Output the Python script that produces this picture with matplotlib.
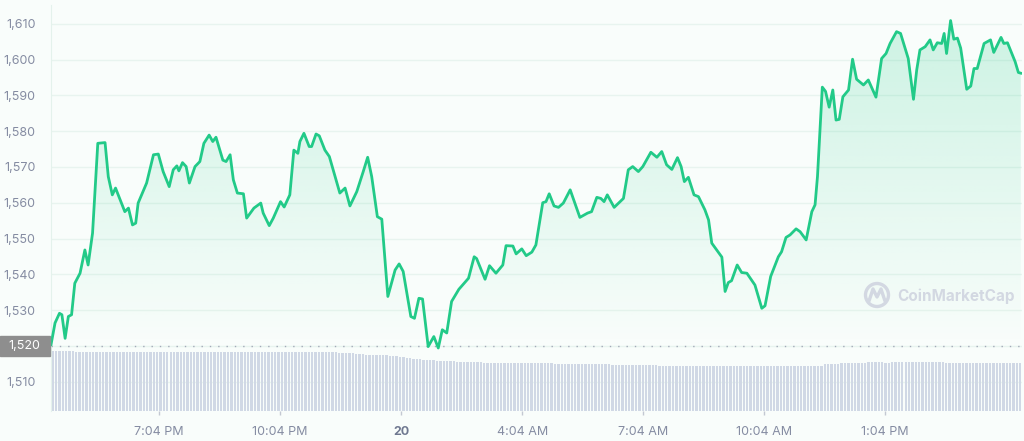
import numpy as np
import matplotlib
matplotlib.use("Agg")
import matplotlib.pyplot as plt
from matplotlib.patches import Circle, Rectangle

# hours since the start of the window (about 4:23 PM on the 19th)
hours = [0.00, 0.10, 0.21, 0.27, 0.35, 0.43, 0.51, 0.59, 0.72, 0.84,
         0.92, 1.03, 1.16, 1.34, 1.42, 1.52, 1.60, 1.83, 1.92, 2.02,
         2.10, 2.16, 2.37, 2.54, 2.66, 2.78, 2.93, 3.03, 3.12, 3.17,
         3.26, 3.35, 3.43, 3.57, 3.69, 3.79, 3.92, 4.01, 4.09, 4.26,
         4.34, 4.44, 4.52, 4.62, 4.77, 4.85, 5.03, 5.20, 5.26, 5.41,
         5.51, 5.69, 5.78, 5.92, 6.02, 6.12, 6.17, 6.27, 6.40, 6.46,
         6.57, 6.65, 6.79, 6.90, 7.16, 7.29, 7.41,
         7.58, 7.74, 7.85, 7.95, 8.09, 8.20, 8.35, 8.53, 8.63, 8.73,
         8.92, 9.01, 9.12, 9.21, 9.35, 9.49, 9.60, 9.70, 9.81, 9.93,
         10.11, 10.35, 10.49, 10.55, 10.76, 10.87, 11.03, 11.20, 11.28, 11.45,
         11.53, 11.67, 11.78, 11.92, 12.02, 12.19, 12.27, 12.35, 12.47, 12.58,
         12.70, 12.87, 13.11, 13.30, 13.40, 13.53, 13.63, 13.71, 13.79, 13.96,
         14.19, 14.31, 14.42, 14.56, 14.67, 14.87, 15.02, 15.14, 15.26, 15.39,
         15.53, 15.62, 15.70, 15.80, 15.94, 16.05, 16.21,
         16.30, 16.38, 16.63, 16.71, 16.79, 16.87, 17.01, 17.12, 17.25, 17.45,
         17.62, 17.70, 17.84, 18.03, 18.11, 18.22, 18.32, 18.47, 18.57, 18.72,
         18.86, 18.94, 19.00, 19.05, 19.12, 19.20, 19.29, 19.38, 19.46, 19.54,
         19.63, 19.77, 19.87, 19.97, 20.14, 20.26, 20.45, 20.59, 20.70, 20.80,
         20.96, 21.06, 21.25, 21.38, 21.46, 21.54, 21.67, 21.79, 21.87, 21.97,
         22.08, 22.14, 22.20, 22.30, 22.38, 22.47, 22.55, 22.70, 22.80, 22.88,
         22.96, 23.13, 23.29, 23.37, 23.55, 23.62, 23.71, 23.90, 23.98, 24.04]

price = [1520.3, 1526.4, 1529.1, 1528.7, 1522.1, 1528.2, 1528.7, 1537.5, 1540.3, 1546.8,
         1542.6, 1551.5, 1576.6, 1576.8, 1567.3, 1562.2, 1564.1, 1557.5, 1558.5, 1553.8,
         1554.3, 1559.9, 1565.5, 1573.4, 1573.6, 1568.7, 1564.5, 1569.2, 1570.3, 1568.9,
         1571.2, 1570.1, 1565.5, 1570.1, 1571.5, 1576.6, 1578.9, 1577.1, 1578.3, 1571.9,
         1571.5, 1573.4, 1566.4, 1562.7, 1562.5, 1555.7, 1558.5, 1559.9, 1557.1, 1553.6,
         1555.7, 1560.3, 1558.8, 1562.2, 1574.7, 1573.8, 1577.1, 1579.4, 1575.7, 1575.7,
         1579.2, 1578.7, 1574.7, 1572.9, 1562.7, 1564.1, 1559.1,
         1563.1, 1568.7, 1572.7, 1567.3, 1556.1, 1555.4, 1533.8, 1541.2, 1542.9, 1540.8,
         1528.2, 1527.7, 1533.3, 1533.1, 1519.8, 1522.6, 1519.4, 1524.5, 1523.6, 1532.4,
         1535.8, 1538.9, 1544.9, 1544.4, 1538.6, 1542.4, 1540.3, 1542.6, 1548.0, 1547.9,
         1545.7, 1547.1, 1545.2, 1546.2, 1548.2, 1560.0, 1560.3, 1562.5, 1559.1, 1558.7,
         1559.9, 1563.6, 1555.9, 1557.1, 1557.5, 1561.5, 1561.2, 1560.3, 1562.2, 1558.7,
         1561.2, 1569.2, 1570.1, 1568.7, 1570.1, 1574.1, 1572.7, 1574.3, 1570.6, 1569.3,
         1572.6, 1570.1, 1565.9, 1567.1, 1562.2, 1561.7, 1558.0,
         1555.2, 1548.7, 1544.8, 1535.2, 1537.7, 1538.2, 1542.6, 1540.5, 1540.3, 1537.0,
         1530.5, 1531.2, 1539.4, 1544.9, 1546.3, 1550.3, 1551.0, 1552.7, 1551.9, 1549.6,
         1557.5, 1559.4, 1567.3, 1577.5, 1592.3, 1591.1, 1586.7, 1591.5, 1583.1, 1583.3,
         1589.6, 1591.5, 1600.1, 1594.5, 1592.9, 1594.3, 1589.5, 1600.3, 1601.7, 1604.5,
         1607.8, 1607.3, 1600.3, 1588.9, 1597.1, 1602.7, 1603.6, 1605.5, 1602.7, 1604.7,
         1604.5, 1607.3, 1601.7, 1610.9, 1605.7, 1606.0, 1603.2, 1591.7, 1592.6, 1597.5,
         1597.5, 1604.5, 1605.5, 1602.0, 1606.2, 1604.5, 1604.7, 1599.4, 1596.4, 1596.2]

# 24h volume (arbitrary units), one bar per 5 minutes, one row per hour
volume = [
    20.0, 20.0, 20.0, 20.1, 20.1, 20.0, 20.0, 19.6, 19.6, 19.6, 19.6, 19.6,
    19.6, 19.6, 19.5, 19.6, 19.6, 19.6, 19.5, 19.6, 19.6, 19.6, 19.6, 19.6,
    19.6, 19.6, 19.6, 19.6, 19.6, 19.5, 19.6, 19.6, 19.6, 19.6, 19.6, 19.6,
    19.6, 19.6, 19.6, 19.6, 19.5, 19.6, 19.6, 19.6, 19.6, 19.6, 19.6, 19.6,
    19.6, 19.6, 19.6, 19.6, 19.6, 19.6, 19.5, 19.6, 19.6, 19.6, 19.6, 19.6,
    19.6, 19.6, 19.6, 19.6, 19.6, 19.6, 19.6, 19.6, 19.6, 19.6, 19.6, 19.6,
    19.6, 19.6, 19.6, 19.6, 19.6, 19.6, 19.5, 19.5, 19.5, 19.5, 19.5, 19.5,
    19.5, 19.4, 19.4, 19.4, 19.3, 19.2, 19.1, 19.0, 18.9, 18.8, 18.8, 18.7,
    18.7, 18.6, 18.5, 18.5, 18.4, 18.3, 18.2, 18.0, 17.9, 17.7, 17.6, 17.4,
    17.3, 17.2, 17.1, 17.0, 17.0, 16.9, 16.8, 16.7, 16.7, 16.6, 16.5, 16.5,
    16.4, 16.4, 16.3, 16.3, 16.2, 16.2, 16.2, 16.2, 16.1, 16.1, 16.1, 16.1,
    16.1, 16.1, 16.0, 16.0, 16.0, 16.0, 16.0, 16.0, 16.0, 15.9, 15.9, 15.9,
    15.9, 15.9, 15.9, 15.9, 15.9, 15.8, 15.8, 15.8, 15.8, 15.8, 15.7, 15.7,
    15.7, 15.7, 15.6, 15.6, 15.6, 15.6, 15.5, 15.5, 15.5, 15.5, 15.4, 15.4,
    15.4, 15.4, 15.4, 15.3, 15.3, 15.3, 15.3, 15.3, 15.2, 15.2, 15.2, 15.2,
    15.1, 15.1, 15.1, 15.1, 15.1, 15.0, 15.0, 15.0, 15.0, 15.0, 15.0, 15.0,
    15.0, 15.0, 15.0, 15.0, 15.0, 15.0, 15.0, 15.0, 15.0, 15.0, 15.0, 15.0,
    15.0, 15.0, 15.0, 15.0, 15.0, 15.0, 15.0, 15.0, 15.0, 15.0, 15.0, 15.0,
    15.0, 15.0, 15.0, 15.0, 15.0, 15.0, 15.0, 15.0, 15.0, 15.0, 15.1, 15.1,
    15.1, 15.6, 15.6, 15.7, 15.7, 15.8, 15.9, 16.0, 16.0, 16.1, 16.1, 16.1,
    16.1, 16.1, 16.2, 16.2, 16.2, 16.2, 16.2, 16.1, 16.1, 16.2, 16.2, 16.2,
    16.2, 16.2, 16.2, 16.2, 16.3, 16.3, 16.2, 16.2, 16.2, 16.2, 16.2, 16.2,
    16.2, 16.1, 16.1, 16.1, 16.1, 16.1, 16.1, 16.1, 16.1, 16.1, 16.1, 16.1,
    16.1, 16.1, 16.0, 16.0, 16.0, 16.0, 15.9, 15.9, 15.9, 15.9, 15.9, 15.9]

xtick_hours = [2.68, 5.68, 8.68, 11.68, 14.68, 17.68, 20.68]
xtick_labels = ["7:04 PM", "10:04 PM", "20", "4:04 AM", "7:04 AM", "10:04 AM", "1:04 PM"]
ytick_vals = [1510, 1520, 1530, 1540, 1550, 1560, 1570, 1580, 1590, 1600, 1610]
ref_price = 1520

plt.rcParams['font.family'] = ['Inter', 'DejaVu Sans']

W, H = 1024, 441
bg = '#f9fdfb'
green = '#22ca88'
label_col = '#858ca2'

fig = plt.figure(figsize=(W / 100, H / 100), dpi=100, facecolor=bg)
ax = fig.add_axes([51 / W, 30 / H, 971 / W, 406 / H], facecolor=bg)

x0, x1 = 0, 24.07
y0, y1 = 1501.8, 1615.25

# volume bars along the bottom (heights in axes fraction)
n = len(volume)
step = x1 / n
bx = (np.arange(n) + 0.5) * step
ax.bar(bx, np.array(volume) / 135.3, width=step * 0.7, bottom=0,
       color='#d0d8e5', transform=ax.get_xaxis_transform(), zorder=1, linewidth=0)

# gridlines
for v in ytick_vals:
    ax.axhline(v, color='#e8f4ef', lw=1, zorder=0.5)

# gradient fill under the price line
poly = ax.fill_between(hours, price, y0, color='none', lw=0, zorder=2)
grad = np.zeros((200, 2, 4))
rgb = matplotlib.colors.to_rgb(green)
yy = np.linspace(y1, y0, 200)
alpha = np.clip((yy - ref_price) / (1612 - ref_price), 0, 1) * 0.21
grad[:, :, 0], grad[:, :, 1], grad[:, :, 2] = rgb
grad[:, :, 3] = alpha[:, None]
im = ax.imshow(grad, extent=[x0, x1, y0, y1], aspect='auto', zorder=2,
               interpolation='bilinear')
im.set_clip_path(poly.get_paths()[0], transform=ax.transData)

ax.plot(hours, price, color=green, lw=2, zorder=3, solid_joinstyle='round')

# reference dotted line
ax.axhline(ref_price, color='#a3a9b8', lw=1, ls=(0, (1, 5)), zorder=2.5)

ax.set_xlim(x0, x1)
ax.set_ylim(y0, y1)

ax.set_yticks(ytick_vals)
ax.set_yticklabels(['' if v == ref_price else f'{v:,}' for v in ytick_vals])
ax.set_xticks(xtick_hours)
ax.set_xticklabels(xtick_labels)
ax.tick_params(axis='y', length=0, pad=11, labelsize=9, labelcolor=label_col)
ax.tick_params(axis='x', length=3, width=1, color='#c3c8d2', pad=8,
               labelsize=9, labelcolor=label_col)
for lab in ax.get_xticklabels():
    if lab.get_text() == '20':
        lab.set_fontweight('bold')
        lab.set_color('#6f7890')

for s in ['top', 'right', 'bottom']:
    ax.spines[s].set_visible(False)
ax.spines['left'].set_color('#e4f2ec')

# 1,520 reference label box
fig.patches.append(Rectangle((0, (H - 356) / H), 50 / W, 20 / H,
                             transform=fig.transFigure, color='#8e8e8e', zorder=5))
fig.text(40 / W, (H - 346) / H, f'{ref_price:,}', color='white', fontsize=9,
         ha='right', va='center', zorder=6)

# watermark
ov = fig.add_axes([0, 0, 1, 1], facecolor='none')
ov.set_xlim(0, W)
ov.set_ylim(H, 0)
ov.axis('off')
wm = '#d3d8e2'
ov.add_patch(Circle((877, 295), 11.5, fill=False, lw=2.4, color=wm))
ov.plot([869, 873, 877, 881, 885], [301, 289, 297, 289, 301], color=wm, lw=2.4,
        solid_capstyle='round', solid_joinstyle='round')
ov.text(897, 296, 'CoinMarketCap', color=wm, fontsize=11, fontweight='bold',
        ha='left', va='center')

fig.savefig('out.png', dpi=100, facecolor=bg)
